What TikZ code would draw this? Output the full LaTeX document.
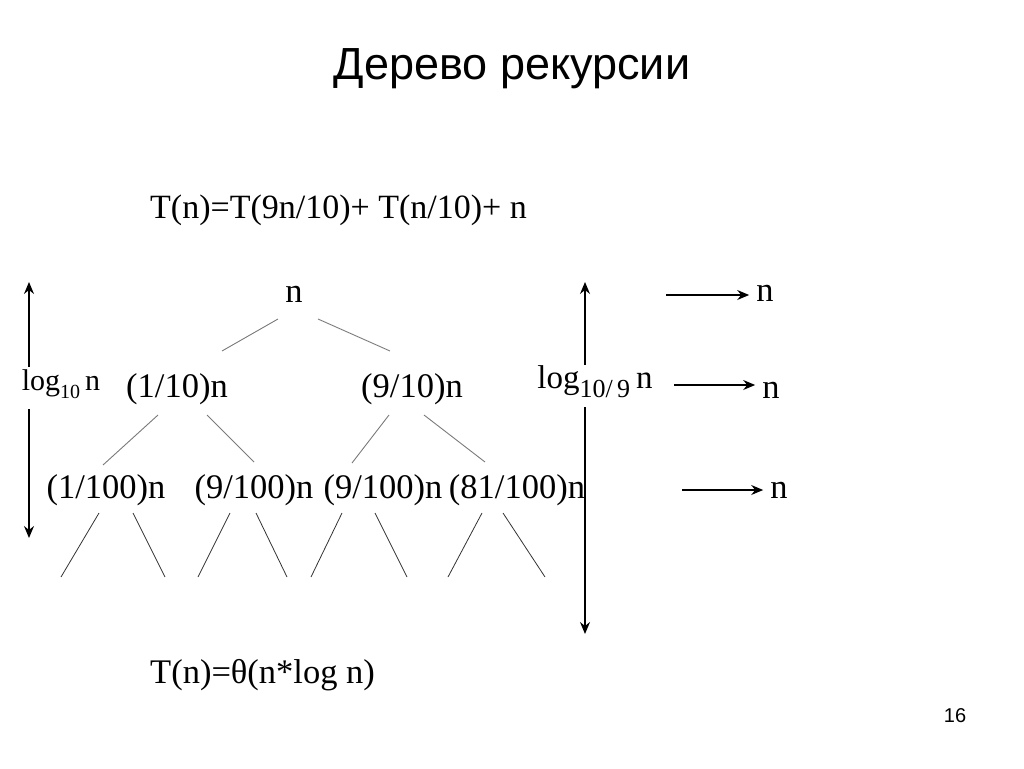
\documentclass[tikz,border=0pt]{standalone}
\usepackage{fontspec}
\setmainfont{Liberation Serif}
\newfontfamily\sansfont{Liberation Sans}
\usetikzlibrary{arrows.meta, positioning, calc}
\definecolor{branchc}{HTML}{7A7A7A}
\definecolor{leafc}{HTML}{333333}

\tikzset{
  term/.style={inner sep=0pt, text height=24pt, text depth=7pt,
    font=\fontsize{34.5}{38}\selectfont},
  loglbl/.style={inner sep=0pt, text height=23pt, text depth=19pt,
    anchor=base, font=\fontsize{33}{36}\selectfont},
  branch/.style={draw=branchc, line width=0.9pt},
  leaf/.style={draw=leafc, line width=0.8pt},
  arrowline/.style={->, line width=1.3pt},
}

\begin{document}
\begin{tikzpicture}[x=1pt, y=-1pt, >={Stealth[length=12pt, width=10pt, inset=4pt]}]
    \useasboundingbox (0,0) rectangle (1024,768);
    % title
    \node[anchor=base, font=\sansfont\fontsize{45}{50}\selectfont]
      (title) at (512,79) {Дерево рекурсии};
    % recurrence
    \node[term, anchor=base west, font=\fontsize{34}{38}\selectfont] (rec) at (150,218)
      {T(n)=T(9n/10)+ T(n/10)+ n};
    % tree levels
    \node[term] (root) at (294,293.5) {n};
    \node[term] (l1a) at (177,388.5) {(1/10)n};
    \node[term] (l1b) at (412,388.5) {(9/10)n};
    \node[term] (l2a) at (106,489.5) {(1/100)n};
    \node[term] (l2b) at (254,489.5) {(9/100)n};
    \node[term] (l2c) at (383,489.5) {(9/100)n};
    \node[term] (l2d) at (517,489.5) {(81/100)n};
    % branches
    \draw[branch] ([shift={(-16,25.5)}]root.center) -- ([shift={(45,-37.5)}]l1a.center);
    \draw[branch] ([shift={(24,25.5)}]root.center) -- ([shift={(-22,-37.5)}]l1b.center);
    \draw[branch] ([shift={(-19,26.5)}]l1a.center) -- ([shift={(-3,-24.5)}]l2a.center);
    \draw[branch] ([shift={(30,26.5)}]l1a.center) -- ([shift={(0,-27.5)}]l2b.center);
    \draw[branch] ([shift={(-23,26.5)}]l1b.center) -- ([shift={(-31,-26.5)}]l2c.center);
    \draw[branch] ([shift={(12,26.5)}]l1b.center) -- ([shift={(-32,-27.5)}]l2d.center);
    % leaves
    \foreach \x [count=\i] in {61,165,198,287,311,407,448,545}
      \coordinate (f\i) at (\x,577);
    \foreach \p/\dx/\f in {l2a/-7/f1, l2a/27/f2, l2b/-24/f3, l2b/2/f4,
                           l2c/-41/f5, l2c/-8/f6, l2d/-35/f7, l2d/-14/f8}
      \draw[leaf] ([shift={(\dx,23.5)}]\p.center) -- (\f);
    % depth, left
    \coordinate (ltop) at (29,282);
    \coordinate (lbot) at (29,538);
    \node[loglbl] (lgl) at (61,390)
      {\fontsize{30}{30}\selectfont log\raisebox{-8pt}{\fontsize{20}{20}\selectfont 10}\hspace{5pt}n};
    \draw[arrowline] (lgl.north -| ltop) -- (ltop);
    \draw[arrowline] (lgl.south -| lbot) -- (lbot);
    % depth, right
    \coordinate (rtop) at (585,282);
    \coordinate (rbot) at (585,634);
    \node[loglbl] (lgr) at (595,388)
      {log\raisebox{-9pt}{\fontsize{26}{26}\selectfont 10/\,9}\hspace{6pt}n};
    \draw[arrowline] (lgr.north -| rtop) -- (rtop);
    \draw[arrowline] (lgr.south -| rbot) -- (rbot);
    % cost per level
    \node[term] (s1) at (765,292.5) {n};
    \node[term] (s2) at (771,389.5) {n};
    \node[term] (s3) at (779,489.5) {n};
    \coordinate (a1) at (666,295);
    \coordinate (a2) at (674,385);
    \coordinate (a3) at (682,490);
    \foreach \i in {1,2,3}
      \draw[arrowline, shorten >=7pt] (a\i) -- (s\i.west |- a\i);
    % result
    \node[term, anchor=base west] (sol) at (150,683) {T(n)=θ(n*log n)};
    % page number
    \node[font=\sansfont\fontsize{20}{22}\selectfont] (pg) at (955,716) {16};
\end{tikzpicture}
\end{document}
